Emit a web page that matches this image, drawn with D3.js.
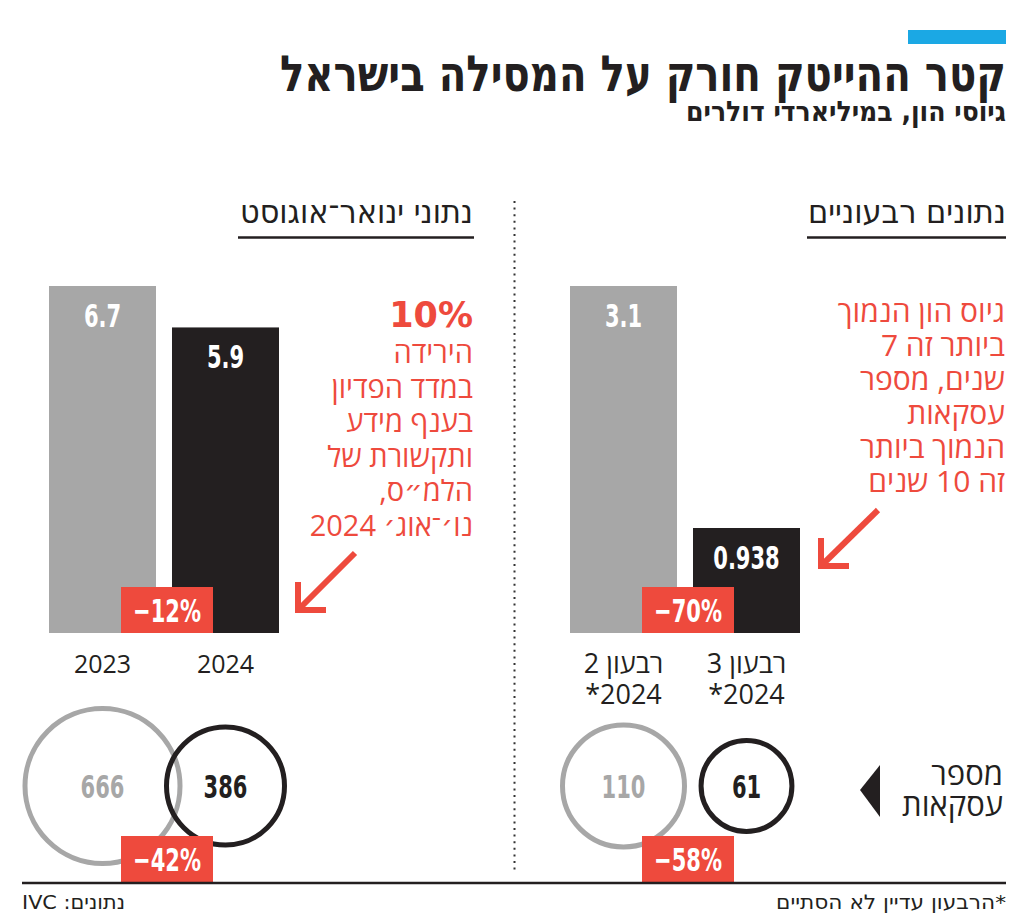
<!DOCTYPE html>
<html><head><meta charset="utf-8">
<script src="https://cdn.jsdelivr.net/npm/d3@7"></script>
<style>body{margin:0;background:#fff} svg{display:block}</style>
</head><body><svg id="c" width="1024" height="923"></svg>
<script>
// ---- data ----
const title = "קטר ההייטק חורק על המסילה בישראל";
const subtitle = "גיוסי הון, במיליארדי דולרים";
const panelTitles = ["נתוני ינואר־אוגוסט", "נתונים רבעוניים"];
const ytdCategories = [["2023"], ["2024"]];
const ytdFunding = [6.7, 5.9];
const ytdDeals = [666, 386];
const ytdChanges = ["−12%", "−42%"];
const quarterCategories = [["רבעון 2", "2024*"], ["רבעון 3", "2024*"]];
const quarterFunding = [3.1, 0.938];
const quarterDeals = [110, 61];
const quarterChanges = ["−70%", "−58%"];
const ytdNoteHead = "10%";
const ytdNote = ["הירידה", "במדד הפדיון", "בענף מידע", "ותקשורת של", "הלמ״ס,", "נו׳־אוג׳ 2024"];
const quarterNote = ["גיוס הון הנמוך", "ביותר זה 7", "שנים, מספר", "עסקאות", "הנמוך ביותר", "זה 10 שנים"];
const dealsLabel = ["מספר", "עסקאות"];
const sourceNote = "נתונים: IVC";
const footNote = "*הרבעון עדיין לא הסתיים";

// ---- style ----
const RED = "#ee4a3d", GRAY = "#a7a7a7", DARK = "#231f20", BLUE = "#1ba8e4";
const COND = "'DejaVu Sans Condensed','DejaVu Sans',sans-serif";
const REG = "'Open Sans','DejaVu Sans',sans-serif";
const svg = d3.select("#c");

function numText(x, y, txt, fill, size = 32) {
  svg.append("text")
    .attr("transform", `translate(${x},${y}) scale(0.73,1)`)
    .attr("text-anchor", "middle")
    .attr("font-family", COND).attr("font-weight", "bold")
    .attr("font-size", size).attr("fill", fill).text(txt);
}
function rtlText(x, y, txt, opts = {}) {
  const t = svg.append("text").attr("x", x).attr("y", y)
    .attr("direction", "rtl").attr("text-anchor", opts.anchor || "start")
    .attr("font-family", opts.family || REG)
    .attr("font-weight", opts.weight || "normal")
    .attr("font-size", opts.size || 25)
    .attr("fill", opts.fill || DARK).text(txt);
  if (opts.len) t.attr("textLength", opts.len).attr("lengthAdjust", "spacingAndGlyphs");
  return t;
}

// ---- header ----
svg.append("rect").attr("x", 908).attr("y", 30).attr("width", 98).attr("height", 14).attr("fill", BLUE);
rtlText(1006, 91, title, {family: COND, weight: "bold", size: 50, len: 726});
rtlText(1006, 121, subtitle, {family: COND, weight: "bold", size: 28, len: 320});

// divider
svg.append("line").attr("x1", 514.5).attr("x2", 514.5).attr("y1", 201).attr("y2", 873)
  .attr("stroke", "#333").attr("stroke-width", 2).attr("stroke-dasharray", "2 4.6");

// ---- panels ----
const panels = [
  {cats: ytdCategories, funding: ytdFunding, deals: ytdDeals, changes: ytdChanges,
   title: panelTitles[0], x0: 49, titleRight: 473, titleLen: 233, lineX: [238, 474], rMax: 77.5},
  {cats: quarterCategories, funding: quarterFunding, deals: quarterDeals, changes: quarterChanges,
   title: panelTitles[1], x0: 570, titleRight: 1006, titleLen: 198, lineX: [807, 1006], rMax: 61}
];

panels.forEach(p => {
  rtlText(p.titleRight, 223, p.title, {family: COND, size: 32, len: p.titleLen});
  svg.append("line").attr("x1", p.lineX[0]).attr("x2", p.lineX[1]).attr("y1", 237.5).attr("y2", 237.5)
    .attr("stroke", DARK).attr("stroke-width", 2.5);

  const x = d3.scaleBand().domain(d3.range(p.funding.length)).range([p.x0, p.x0 + 230]).paddingInner(0.13);
  const y = d3.scaleLinear().domain([0, d3.max(p.funding)]).range([633, 286]);
  const r = d3.scaleSqrt().domain([0, d3.max(p.deals)]).range([0, p.rMax]);
  const colors = [GRAY, DARK];

  svg.append("g").selectAll("rect").data(p.funding).join("rect")
    .attr("x", (d, i) => x(i)).attr("width", x.bandwidth())
    .attr("y", d => y(d)).attr("height", d => y(0) - y(d))
    .attr("fill", (d, i) => colors[i]);
  p.funding.forEach((d, i) => numText(x(i) + x.bandwidth() / 2, y(d) + 41, String(d), "#fff"));

  // category labels
  p.cats.forEach((lines, i) => {
    lines.forEach((s, k) => rtlText(x(i) + x.bandwidth() / 2, 673 + k * 31, s,
      {anchor: "middle", size: lines.length > 1 ? 27 : 25}));
  });

  const gapC = (x(0) + x.bandwidth() + x(1)) / 2 + 3;
  svg.append("rect").attr("x", gapC - 46).attr("y", 587).attr("width", 92).attr("height", 46).attr("fill", RED);
  numText(gapC, 622, p.changes[0], "#fff");

  // deals circles
  p.deals.forEach((d, i) => {
    svg.append("circle").attr("cx", x(i) + x.bandwidth() / 2).attr("cy", 786).attr("r", r(d))
      .attr("fill", "none").attr("stroke", colors[i]).attr("stroke-width", 5);
  });
  p.deals.forEach((d, i) => numText(x(i) + x.bandwidth() / 2, 798, String(d), colors[i]));
  svg.append("rect").attr("x", gapC - 46).attr("y", 836).attr("width", 92).attr("height", 46).attr("fill", RED);
  numText(gapC, 871, p.changes[1], "#fff");
});

// ---- annotations ----
rtlText(473, 327, ytdNoteHead, {family: "'DejaVu Sans',sans-serif", weight: "bold", size: 35, fill: RED});
ytdNote.forEach((s, i) => rtlText(473, 363 + i * 34.5, s, {size: 29, fill: RED}));
quarterNote.forEach((s, i) => rtlText(1005, 322 + i * 34, s, {size: 30, fill: RED}));

function arrow(x1, y1, x2, y2) {
  const g = svg.append("g").attr("fill", "none").attr("stroke", RED).attr("stroke-width", 6);
  g.append("line").attr("x1", x1).attr("y1", y1).attr("x2", x2 + 3).attr("y2", y2 - 3);
  g.append("path").attr("d", `M${x2},${y2 - 28}V${y2}H${x2 + 28}`).attr("stroke-linejoin", "miter");
}
arrow(355, 553, 298, 610);
arrow(878, 510, 821, 566);

// deals label + triangle
dealsLabel.forEach((s, i) => rtlText(1003, 785 + i * 31, s, {size: 31}));
svg.append("path").attr("d", "M860,790L880,765L880,817Z").attr("fill", DARK);

// ---- footer ----
svg.append("line").attr("x1", 22).attr("x2", 1006).attr("y1", 883).attr("y2", 883)
  .attr("stroke", DARK).attr("stroke-width", 2.5);
svg.append("text").attr("x", 22).attr("y", 909).attr("direction", "rtl").attr("text-anchor", "end")
  .attr("font-family", COND).attr("font-size", 20).attr("fill", DARK)
  .attr("textLength", 103).attr("lengthAdjust", "spacingAndGlyphs").text(sourceNote);
rtlText(1006, 909, footNote, {family: COND, size: 20, len: 230});
</script></body></html>
